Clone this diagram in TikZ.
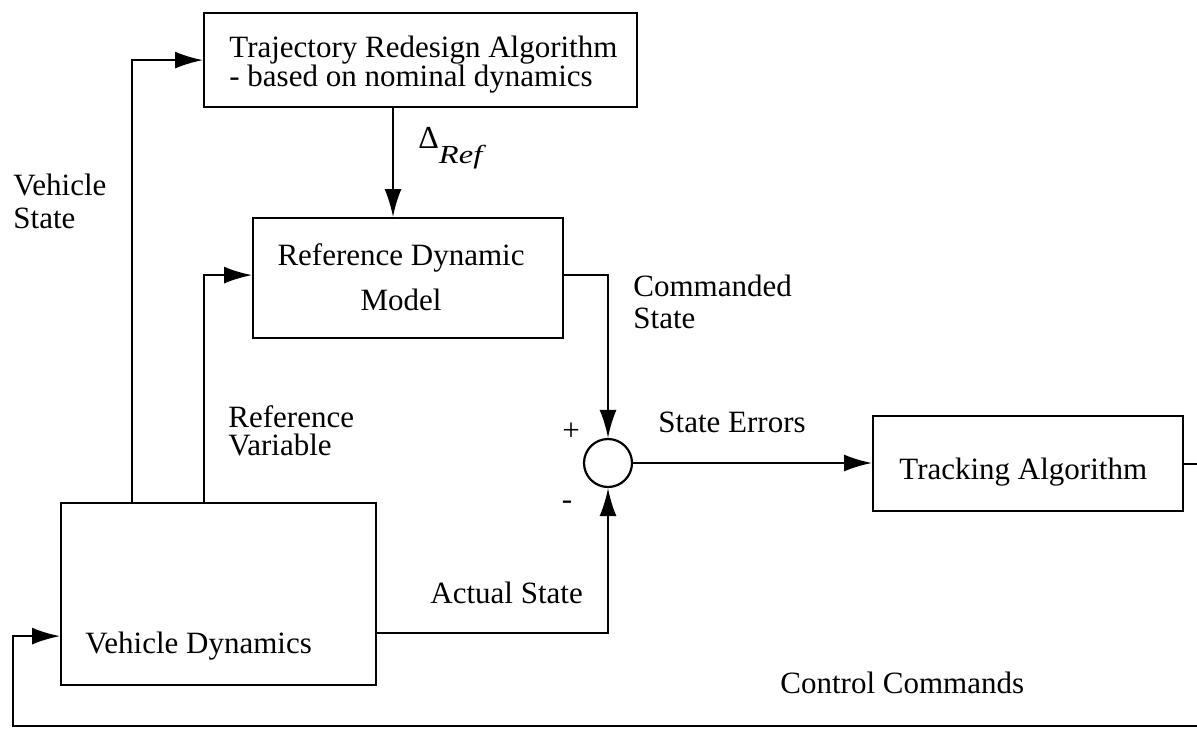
\documentclass[tikz,border=0pt]{standalone}
\usepackage{fontspec}
\setmainfont{Liberation Serif}
\usetikzlibrary{arrows.meta,calc}
\begin{document}
\begin{tikzpicture}[x=0.5pt,y=-0.5pt,
  blk/.style={draw, line width=1.1pt, inner sep=0pt, anchor=north west},
  sumnode/.style={draw, circle, line width=1.1pt, inner sep=0pt, minimum size=24pt},
  lbl/.style={inner sep=0pt, font=\fontsize{15.5}{18}\selectfont},
  wire/.style={line width=1.1pt},
  arr/.style={wire, -{Latex[length=14pt,width=8.5pt]}}
]
\useasboundingbox (0,0) rectangle (1197,729);
\clip (0,0) rectangle (1197,729);

% blocks
\node[blk, minimum width=216.5pt, minimum height=47pt] (traj) at (203,12) {};
\node[blk, minimum width=155pt, minimum height=60pt] (ref) at (252,217) {};
\node[blk, minimum width=155pt, minimum height=47.5pt] (track) at (872,415) {};
\node[blk, minimum width=157.5pt, minimum height=91pt] (veh) at (60,502) {};
\node[sumnode] (sum) at (608,463) {};

% block texts (multi-line nodes are anchored on the baseline of their last line)
\node[lbl, align=left, anchor=base west, font=\fontsize{15.5}{14.5}\selectfont] (trajtxt) at (229,86)
  {Trajectory Redesign Algorithm\\- based on nominal dynamics};
\node[lbl, align=center, anchor=base, font=\fontsize{15.5}{22.5}\selectfont] (reftxt) at (401,310)
  {Reference Dynamic\\Model};
\node[lbl, anchor=base west] (tracktxt) at (899,479) {Tracking Algorithm};
\node[lbl, anchor=base west] (vehtxt) at (85,653) {Vehicle Dynamics};

% signal labels
\node[lbl, align=left, anchor=base west, font=\fontsize{15.5}{16.5}\selectfont] (vstate) at (13,228) {Vehicle\\State};
\node[lbl, align=left, anchor=base west, font=\fontsize{15.5}{14}\selectfont] (refvar) at (228,455) {Reference\\Variable};
\node[lbl, align=left, anchor=base west, font=\fontsize{15.5}{16}\selectfont] (cmd) at (633,328) {Commanded\\State};
\node[lbl, anchor=base west] (err) at (658,432) {State Errors};
\node[lbl, anchor=base west] (act) at (430,603) {Actual State};
\node[lbl, anchor=base west] (ctrl) at (780,693) {Control Commands};
\node[lbl] (plus) at (571,432) {+};
\node[lbl] (minus) at (567,505) {-};
\node[inner sep=0pt, anchor=base west] (delta) at (418,148)
  {\fontsize{16}{18}\selectfont Δ\raisebox{-7.5pt}{\fontsize{13}{15}\selectfont\scalebox{1.25}[1]{\itshape Ref}}};

% connectors
\draw[arr] ([xshift=36pt]veh.north west) |- (traj.west);
\draw[arr] ([xshift=72pt]veh.north west) |- ([yshift=1.5pt]ref.west);
\draw[arr] ([xshift=95pt]traj.south west) coordinate (dtop) -- (dtop |- ref.north);
\draw[arr] ([yshift=1.5pt]ref.east) -| (sum.north);
\draw[arr] ([yshift=-19.5pt]veh.east) -| (sum.south);
\draw[arr] (sum.east) -- (sum.east -| track.west);
\coordinate (loopR) at (1240,726);
\coordinate (loopL) at (13,726);
\draw[arr] (track.east) -| (loopR) -- (loopL) |- ([yshift=-21pt]veh.west);
\end{tikzpicture}
\end{document}
